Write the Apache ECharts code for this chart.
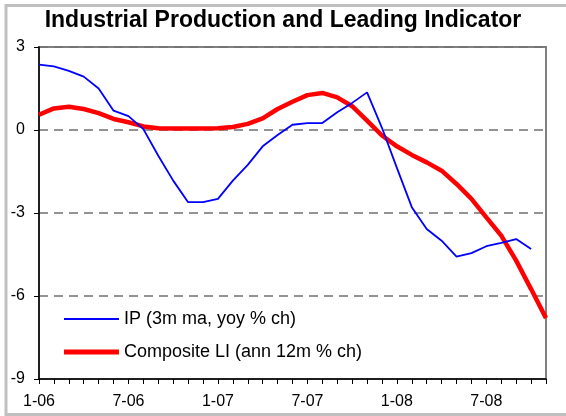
<!DOCTYPE html>
<html>
<head>
<meta charset="utf-8">
<script src="https://cdn.jsdelivr.net/npm/echarts@6/dist/echarts.min.js"></script>
<style>
  html, body { margin: 0; padding: 0; background: #fff; }
  #chart { width: 566px; height: 416px; }
</style>
</head>
<body>
<div id="chart"></div>
<script>
// months Jan-06 .. Nov-08
var months = [
  "1-06", "2-06", "3-06", "4-06", "5-06", "6-06", "7-06", "8-06", "9-06", "10-06", "11-06", "12-06",
  "1-07", "2-07", "3-07", "4-07", "5-07", "6-07", "7-07", "8-07", "9-07", "10-07", "11-07", "12-07",
  "1-08", "2-08", "3-08", "4-08", "5-08", "6-08", "7-08", "8-08", "9-08", "10-08", "11-08"
];

// IP (3m ma, yoy % ch)
var ipValues = [
  2.36, 2.3, 2.14, 1.93, 1.5, 0.7, 0.5, 0.03, -0.93, -1.83, -2.61, -2.61,
  -2.49, -1.83, -1.26, -0.59, -0.18, 0.19, 0.25, 0.25, 0.64, 0.98, 1.36, 0.08,
  -1.37, -2.79, -3.58, -4.0, -4.58, -4.45, -4.2, -4.08, -3.94, -4.3, null
];

// Composite LI (ann 12m % ch)
var liValues = [
  0.55, 0.78, 0.84, 0.76, 0.61, 0.4, 0.28, 0.13, 0.06, 0.05, 0.05, 0.05,
  0.06, 0.11, 0.22, 0.42, 0.76, 1.02, 1.26, 1.34, 1.18, 0.86, 0.34, -0.2,
  -0.59, -0.9, -1.17, -1.47, -1.95, -2.49, -3.16, -3.82, -4.72, -5.75, -6.8
];

var seriesNames = ["IP (3m ma, yoy % ch)", "Composite LI (ann 12m % ch)"];

var chart = echarts.init(document.getElementById("chart"));
var font = "'Liberation Sans', Arial, sans-serif";

// legend icons: plain line strokes (thin blue, thick red) inside a 55x20 box
var thinIcon = "path://M0,0 L55,0 L55,0.01 Z M0,9 L55,9 L55,11 L0,11 Z M0,20 L55,20 L55,20.01 Z";
var thickIcon = "path://M0,0 L55,0 L55,0.01 Z M0,7.5 L55,7.5 L55,12.5 L0,12.5 Z M0,20 L55,20 L55,20.01 Z";

chart.setOption({
  animation: false,
  backgroundColor: "#fff",
  textStyle: { fontFamily: font },
  title: {
    text: "Industrial Production and Leading Indicator",
    left: "center",
    top: 9,
    padding: 0,
    textStyle: { fontSize: 23, fontWeight: "bold", color: "#000", fontFamily: font }
  },
  graphic: [{
    type: "rect",
    shape: { x: 6, y: 5.5, width: 600, height: 409 },
    style: { fill: "none", stroke: "#c0c0c0", lineWidth: 3 },
    z: -1
  }],
  grid: {
    left: 39, top: 47, right: 20, bottom: 37,
    show: true, borderColor: "#808080", borderWidth: 2, backgroundColor: "#fff"
  },
  legend: {
    orient: "vertical",
    left: 64,
    top: 309,
    padding: 0,
    itemWidth: 55,
    itemHeight: 20,
    itemGap: 13,
    itemStyle: { borderWidth: 0 },
    textStyle: { fontSize: 18, color: "#000", lineHeight: 20, fontFamily: font },
    data: [
      { name: seriesNames[0], icon: thinIcon },
      { name: seriesNames[1], icon: thickIcon }
    ]
  },
  xAxis: {
    type: "category",
    data: months,
    boundaryGap: false,
    axisLine: { onZero: false, lineStyle: { color: "#000", width: 1.5 } },
    axisTick: { show: true, interval: 0, length: 5, lineStyle: { color: "#000" } },
    axisLabel: {
      interval: function (i) { return i % 6 === 0; },
      fontSize: 16, color: "#000", margin: 15
    },
    splitLine: { show: false }
  },
  yAxis: {
    type: "value",
    min: -9, max: 3, interval: 3,
    axisLine: { show: true, lineStyle: { color: "#000", width: 1.5 } },
    axisTick: { show: true, length: 5, lineStyle: { color: "#000" } },
    axisLabel: { fontSize: 16, color: "#000", margin: 14 },
    splitLine: { show: true, lineStyle: { color: "#707070", width: 1.5, type: [9, 6] } }
  },
  series: [
    {
      name: seriesNames[0],
      type: "line",
      data: ipValues,
      symbol: "none",
      lineStyle: { color: "#0000ff", width: 1.8 },
      itemStyle: { color: "#0000ff" },
      z: 3
    },
    {
      name: seriesNames[1],
      type: "line",
      data: liValues,
      symbol: "none",
      lineStyle: { color: "#ff0000", width: 4.5 },
      itemStyle: { color: "#ff0000" },
      z: 2
    }
  ]
});
</script>
</body>
</html>
